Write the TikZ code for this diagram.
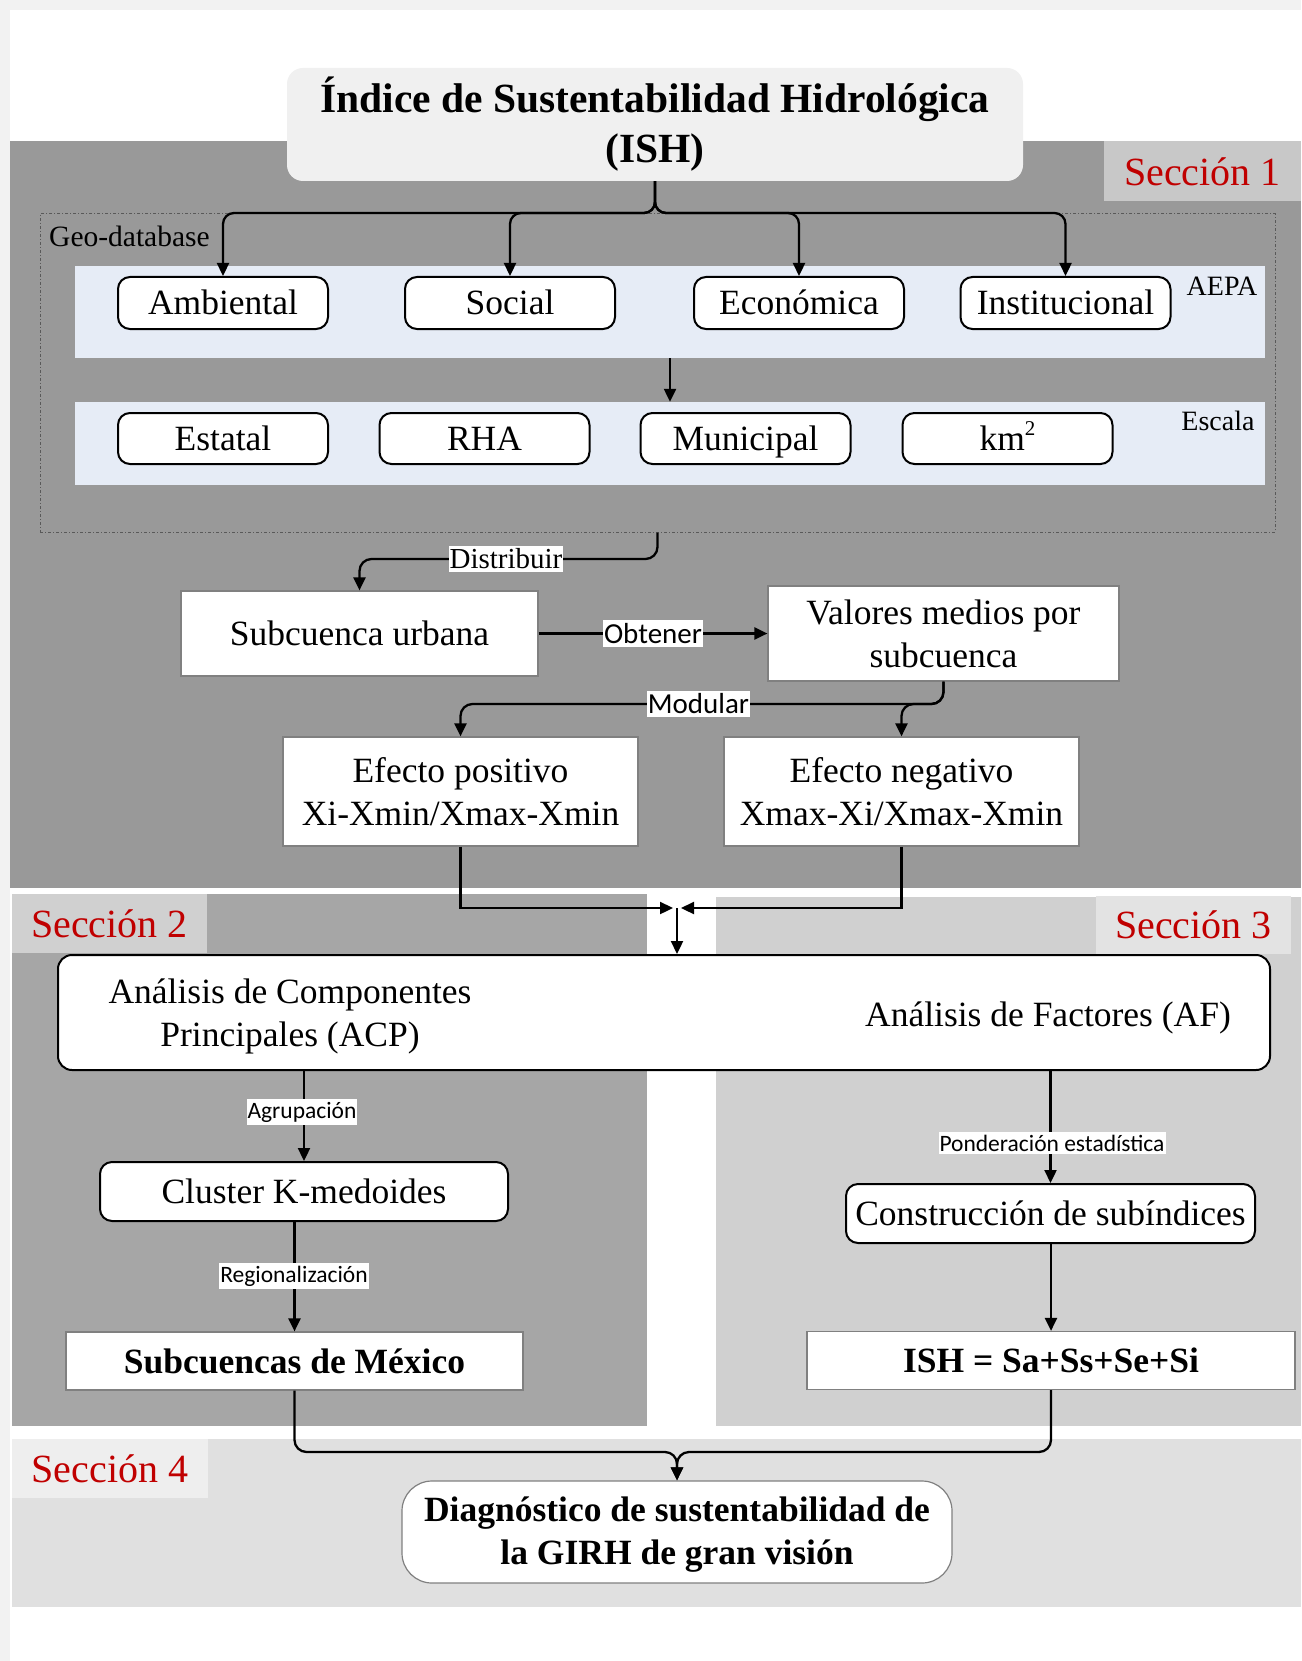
\documentclass[tikz,border=0pt]{standalone}
\usepackage{fontspec}
\setmainfont{Liberation Serif}
\newfontfamily\lblfont{Carlito}
\usetikzlibrary{arrows.meta}
\definecolor{secred}{HTML}{C00000}
\definecolor{pagegray}{HTML}{F2F2F2}
\definecolor{secone}{HTML}{999999}
\definecolor{seconelbl}{HTML}{C8C8C8}
\definecolor{sectwo}{HTML}{A6A6A6}
\definecolor{sectwolbl}{HTML}{D0D0D0}
\definecolor{secthree}{HTML}{D0D0D0}
\definecolor{secthreelbl}{HTML}{E3E3E3}
\definecolor{secfour}{HTML}{E0E0E0}
\definecolor{secfourlbl}{HTML}{EEEEEE}
\definecolor{bandblue}{HTML}{E6ECF6}
\definecolor{titlefill}{HTML}{F0F0F0}
\definecolor{thinborder}{HTML}{808080}
\tikzset{
  maintext/.style={font=\fontsize{35.5}{43}\selectfont, align=center},
  oneline/.style={text height=26pt, text depth=2pt},
  rbox/.style={maintext, oneline, draw=black, line width=2pt, rounded corners=12pt, fill=white, inner sep=0pt},
  sqbox/.style={maintext, draw=thinborder, line width=1.2pt, fill=white, inner sep=0pt},
  band/.style={fill=bandblue, inner sep=0pt},
  seclbl/.style={font=\fontsize{40}{44}\selectfont, text=secred, inner sep=0pt},
  conn/.style={line width=2.3pt, -{Triangle[length=13pt,width=12pt]}},
  lbl/.style={fill=white, inner xsep=1pt, inner ysep=3pt, font=\lblfont\fontsize{29}{30}\selectfont},
  lblserif/.style={fill=white, inner xsep=1pt, inner ysep=3pt, font=\fontsize{29}{30}\selectfont},
  lblsmall/.style={fill=white, inner xsep=1pt, inner ysep=3pt, font=\lblfont\fontsize{23.5}{25}\selectfont},
  sidetext/.style={font=\fontsize{28}{30}\selectfont, inner sep=1pt}
}
\begin{document}
\begin{tikzpicture}[x=1pt,y=-1pt]
\useasboundingbox (0,0) rectangle (1301,1661);
% page
\fill[pagegray] (0,0) rectangle (1301,1661);
\fill[white] (10,10) rectangle (1301,1661);
% section regions
\fill[secone] (10,141) rectangle (1301,888);
\fill[sectwo] (12,894) rectangle (647,1426);
\fill[secthree] (716,897) rectangle (1301,1426);
\fill[secfour] (12,1439) rectangle (1301,1607);
% section labels
\node[seclbl, fill=seconelbl, minimum width=197pt, minimum height=60pt] (s1) at (1202.5,171.5) {Sección 1};
\node[seclbl, fill=sectwolbl, minimum width=195pt, minimum height=59pt] (s2) at (109.5,923.5) {Sección 2};
\node[seclbl, fill=secthreelbl, minimum width=195pt, minimum height=58pt] (s3) at (1193.5,925) {Sección 3};
\node[seclbl, fill=secfourlbl, minimum width=196pt, minimum height=59pt] (s4) at (110,1468.5) {Sección 4};
% title
\node[fill=titlefill, rounded corners=16pt, minimum width=736pt, minimum height=113pt, inner sep=0pt,
      font=\bfseries\fontsize{41.5}{50}\selectfont, align=center] (title) at (655,124.5)
      {Índice de Sustentabilidad Hidrológica\\(ISH)};
% geo-database box and bands
\node[draw=black!65, line width=1pt, dash dot, minimum width=1235pt, minimum height=318pt, inner sep=0pt] (geo) at (657.5,373) {};
\node[band, minimum width=1190pt, minimum height=92pt] (aepaband) at (670,312) {};
\node[band, minimum width=1190pt, minimum height=83pt] (escband) at (670,443.5) {};
\node[sidetext, anchor=west, font=\fontsize{29.5}{30}\selectfont] (geolbl) at (48,236) {Geo-database};
\node[sidetext] (aepalbl) at (1222,286) {AEPA};
\node[sidetext] (esclbl) at (1218,421) {Escala};
% AEPA row
\node[rbox, minimum width=210pt, minimum height=52pt] (amb) at (223,303) {Ambiental};
\node[rbox, minimum width=210pt, minimum height=52pt] (soc) at (510,303) {Social};
\node[rbox, minimum width=210pt, minimum height=52pt] (eco) at (799,303) {Económica};
\node[rbox, minimum width=210pt, minimum height=52pt] (ins) at (1065.5,303) {Institucional};
% Escala row
\node[rbox, minimum width=210pt, minimum height=51pt] (est) at (223,438.5) {Estatal};
\node[rbox, minimum width=210pt, minimum height=51pt] (rha) at (484.5,438.5) {RHA};
\node[rbox, minimum width=210pt, minimum height=51pt] (mun) at (745.5,438.5) {Municipal};
\node[rbox, minimum width=210pt, minimum height=51pt] (kmb) at (1007.5,438.5) {km\raisebox{0.42em}{\fontsize{21}{21}\selectfont 2}};
% middle boxes
\node[sqbox, oneline, minimum width=357pt, minimum height=85pt] (sub) at (359.5,633.5) {Subcuenca urbana};
\node[sqbox, minimum width=351pt, minimum height=95pt] (val) at (943.5,633.5) {Valores medios por\\subcuenca};
\node[sqbox, minimum width=355pt, minimum height=109pt] (pos) at (460.5,791.5) {Efecto positivo\\Xi-Xmin/Xmax-Xmin};
\node[sqbox, minimum width=355pt, minimum height=109pt] (neg) at (901.5,791.5) {Efecto negativo\\Xmax-Xi/Xmax-Xmin};
% ACP / AF box
\node[draw=black, line width=2pt, rounded corners=14pt, fill=white, minimum width=1212pt, minimum height=115pt, inner sep=0pt] (acp) at (664,1012.5) {};
\node[maintext] (acptext) at (290,1016) {Análisis de Componentes\\Principales (ACP)};
\node[maintext, oneline] (aftext) at (1048,1014) {Análisis de Factores (AF)};
% section 2 boxes
\node[rbox, minimum width=408pt, minimum height=59pt] (clu) at (304,1191.5) {Cluster K-medoides};
\node[sqbox, oneline, minimum width=457pt, minimum height=58pt, font=\bfseries\fontsize{35.5}{43}\selectfont] (sub2) at (294.5,1361) {Subcuencas de México};
% section 3 boxes
\node[rbox, minimum width=409pt, minimum height=59pt] (constr) at (1050.5,1213.5) {Construcción de subíndices};
\node[sqbox, oneline, minimum width=488pt, minimum height=58pt, font=\bfseries\fontsize{35.5}{43}\selectfont] (ish) at (1051,1360.5) {ISH = Sa+Ss+Se+Si};
% section 4 box
\node[draw=thinborder, line width=1.2pt, rounded corners=30pt, fill=white, minimum width=550pt, minimum height=102pt, inner sep=0pt] (diag) at (677,1532) {};
\node[font=\bfseries\fontsize{35.5}{43}\selectfont, align=center] (diagtext) at (677,1535)
      {Diagnóstico de sustentabilidad de\\la GIRH de gran visión};
% connectors: title to dimensions
\coordinate (tj) at (655,213);
\draw[conn, rounded corners=11pt] (title.south) -- (tj) -| (amb.north);
\draw[conn, rounded corners=11pt] (title.south) -- (tj) -| (soc.north);
\draw[conn, rounded corners=11pt] (title.south) -- (tj) -| (eco.north);
\draw[conn, rounded corners=11pt] (title.south) -- (tj) -| (ins.north);
\draw[conn] (aepaband.south) -- (escband.north);
% distribuir
\coordinate (dj) at (657.5,559);
\draw[conn, rounded corners=12pt] (geo.south) -- (dj) -| (sub.north);
\node[lblserif] (distlbl) at (506,559) {Distribuir};
% obtener
\draw[conn] (sub.east) -- (val.west);
\node[lbl] (obtlbl) at (653,633.5) {Obtener};
% modular
\coordinate (mj) at (943.5,704);
\draw[conn, rounded corners=12pt] (val.south) -- (mj) -| (pos.north);
\draw[conn, rounded corners=12pt] (val.south) -- (mj) -| (neg.north);
\node[lbl] (modlbl) at (698.5,704) {Modular};
% merge to ACP
\coordinate (mrg) at (677,908);
\draw[conn] (pos.south) |- ([xshift=-4pt]mrg);
\draw[conn] (neg.south) |- ([xshift=4pt]mrg);
\draw[conn] (mrg) -- (mrg |- acp.north);
% section 2 connectors
\draw[conn] (acp.south -| clu.north) -- (clu.north);
\node[lblsmall] (agrlbl) at (302,1112) {Agrupación};
\draw[conn] (clu.south -| sub2.north) -- (sub2.north);
\node[lblsmall] (reglbl) at (294,1276) {Regionalización};
% section 3 connectors
\draw[conn] (acp.south -| constr.north) -- (constr.north);
\node[lblsmall] (ponlbl) at (1052,1143) {Ponderación estadística};
\draw[conn] (constr.south -| ish.north) -- (ish.north);
% section 4 connectors
\coordinate (lj) at (294.5,1452);
\coordinate (rj) at (1051,1452);
\draw[conn, rounded corners=12pt] (sub2.south) -- (lj) -| (diag.north);
\draw[conn, rounded corners=12pt] (ish.south) -- (rj) -| (diag.north);
\end{tikzpicture}
\end{document}
